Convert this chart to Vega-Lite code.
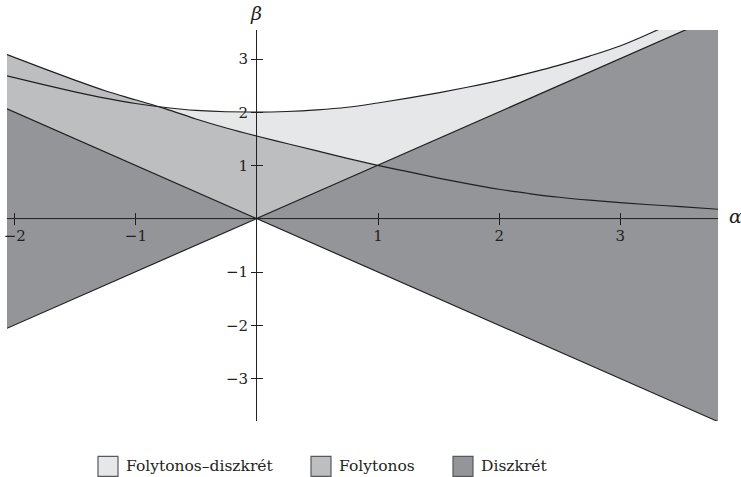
{
  "$schema": "https://vega.github.io/schema/vega-lite/v6.json",
  "width": 711,
  "height": 391,
  "autosize": {"type": "none"},
  "padding": {"left": 7, "top": 30, "right": 23, "bottom": 56},
  "background": "white",
  "config": {"view": {"stroke": null}, "font": "DejaVu Serif"},
  "datasets": {
    "curves": [
      {"a": -2.06, "A": 2.68, "B": 3.08},
      {"a": -1.75, "A": 2.51, "B": 2.81},
      {"a": -1.5, "A": 2.38, "B": 2.6},
      {"a": -1.25, "A": 2.26, "B": 2.4},
      {"a": -1.0, "A": 2.16, "B": 2.23},
      {"a": -0.75, "A": 2.085, "B": 2.06},
      {"a": -0.5, "A": 2.03, "B": 1.87},
      {"a": -0.25, "A": 2.005, "B": 1.7},
      {"a": 0, "A": 2.0, "B": 1.55},
      {"a": 0.25, "A": 2.01, "B": 1.41},
      {"a": 0.5, "A": 2.04, "B": 1.27},
      {"a": 0.75, "A": 2.09, "B": 1.13},
      {"a": 1.0, "A": 2.17, "B": 1.0},
      {"a": 1.25, "A": 2.26, "B": 0.88},
      {"a": 1.5, "A": 2.36, "B": 0.76},
      {"a": 1.75, "A": 2.47, "B": 0.65},
      {"a": 2.0, "A": 2.59, "B": 0.55},
      {"a": 2.25, "A": 2.73, "B": 0.47},
      {"a": 2.5, "A": 2.88, "B": 0.4},
      {"a": 2.75, "A": 3.05, "B": 0.345},
      {"a": 3.0, "A": 3.24, "B": 0.3},
      {"a": 3.25, "A": 3.48, "B": 0.26},
      {"a": 3.5, "A": 3.74, "B": 0.225},
      {"a": 3.81, "A": 4.05, "B": 0.175}
    ],
    "wedge": [
      {"a": -2.06, "lo": -2.06, "hi": 2.06},
      {"a": 0, "lo": 0, "hi": 0},
      {"a": 3.81, "lo": -3.81, "hi": 3.81}
    ],
    "diag": [
      {"k": "p", "a": -2.06, "b": -2.06},
      {"k": "p", "a": 3.81, "b": 3.81},
      {"k": "m", "a": -2.06, "b": 2.06},
      {"k": "m", "a": 3.81, "b": -3.81}
    ],
    "origin": [{"a": 0, "b": 0}]
  },
  "layer": [
    {
      "data": {"name": "curves"},
      "mark": {"type": "area", "clip": true, "interpolate": "monotone"},
      "encoding": {
        "x": {
          "field": "a", "type": "quantitative",
          "scale": {"domain": [-2.06, 3.81], "nice": false, "zero": false},
          "axis": {
            "orient": "bottom", "values": [-2, -1, 1, 2, 3], "offset": -208.4, "format": "d",
            "tickSize": 12, "tickWidth": 1, "tickColor": "#231f20", "zindex": 2,
            "domain": false, "grid": false, "title": null, "labelFlush": false,
            "labelFont": "DejaVu Serif", "labelFontSize": 15, "labelColor": "#231f20",
            "labelPadding": 4
          }
        },
        "y": {
          "field": "B", "type": "quantitative",
          "scale": {"domain": [-3.8, 3.54], "nice": false, "zero": false},
          "axis": {
            "orient": "left", "values": [-3, -2, -1, 1, 2, 3], "offset": -255.5, "format": "d",
            "tickSize": 12, "tickWidth": 1, "tickColor": "#231f20", "zindex": 2,
            "domain": false, "grid": false, "title": null, "labelFlush": false,
            "labelFont": "DejaVu Serif", "labelFontSize": 15, "labelColor": "#231f20",
            "labelPadding": 3
          }
        },
        "y2": {"field": "A"},
        "color": {
          "datum": "Folytonos–diszkrét", "type": "nominal",
          "scale": {
            "domain": ["Folytonos–diszkrét", "Folytonos", "Diszkrét"],
            "range": ["#e6e7e8", "#bcbec0", "#939598"]
          },
          "legend": {
            "orient": "none", "legendX": 90, "legendY": 425, "direction": "horizontal",
            "title": null, "symbolType": "square", "symbolSize": 400,
            "symbolStrokeWidth": 1.2, "symbolStrokeColor": "#58595b",
            "labelFont": "DejaVu Serif", "labelFontSize": 15.5, "labelColor": "#231f20",
            "labelLimit": 400, "labelOffset": 7, "columnPadding": 35, "padding": 0, "symbolOpacity": 1
          }
        }
      }
    },
    {
      "data": {"name": "curves"},
      "mark": {"type": "area", "clip": true, "interpolate": "monotone"},
      "encoding": {
        "x": {"field": "a", "type": "quantitative"},
        "y": {"field": "B", "type": "quantitative"},
        "y2": {"datum": 0},
        "color": {"datum": "Folytonos", "type": "nominal"}
      }
    },
    {
      "data": {"name": "wedge"},
      "mark": {"type": "area", "clip": true},
      "encoding": {
        "x": {"field": "a", "type": "quantitative"},
        "y": {"field": "lo", "type": "quantitative"},
        "y2": {"field": "hi"},
        "color": {"datum": "Diszkrét", "type": "nominal"}
      }
    },
    {
      "data": {"name": "curves"},
      "mark": {"type": "line", "clip": true, "interpolate": "monotone", "stroke": "#231f20", "strokeWidth": 1.2},
      "encoding": {
        "x": {"field": "a", "type": "quantitative"},
        "y": {"field": "B", "type": "quantitative"}
      }
    },
    {
      "data": {"name": "curves"},
      "mark": {"type": "line", "clip": true, "interpolate": "monotone", "stroke": "#231f20", "strokeWidth": 1.2},
      "encoding": {
        "x": {"field": "a", "type": "quantitative"},
        "y": {"field": "A", "type": "quantitative"}
      }
    },
    {
      "data": {"name": "diag"},
      "mark": {"type": "line", "clip": true, "stroke": "#231f20", "strokeWidth": 1.2},
      "encoding": {
        "x": {"field": "a", "type": "quantitative"},
        "y": {"field": "b", "type": "quantitative"},
        "detail": {"field": "k", "type": "nominal"}
      }
    },
    {
      "data": {"name": "origin"},
      "mark": {"type": "rule", "stroke": "#231f20", "strokeWidth": 1},
      "encoding": {"y": {"field": "b", "type": "quantitative"}}
    },
    {
      "data": {"name": "origin"},
      "mark": {"type": "rule", "stroke": "#231f20", "strokeWidth": 1},
      "encoding": {"x": {"field": "a", "type": "quantitative"}}
    },
    {
      "data": {"values": [{"a": 0, "b": 3.54, "t": "β"}]},
      "mark": {"type": "text", "font": "DejaVu Serif", "fontStyle": "italic", "fontSize": 19, "align": "center", "baseline": "alphabetic", "dy": -10, "color": "#231f20"},
      "encoding": {
        "x": {"field": "a", "type": "quantitative"},
        "y": {"field": "b", "type": "quantitative"},
        "text": {"field": "t"}
      }
    },
    {
      "data": {"values": [{"a": 3.81, "b": 0, "t": "α"}]},
      "mark": {"type": "text", "font": "DejaVu Serif", "fontStyle": "italic", "fontSize": 19, "align": "left", "baseline": "alphabetic", "dx": 11, "dy": 4.5, "color": "#231f20"},
      "encoding": {
        "x": {"field": "a", "type": "quantitative"},
        "y": {"field": "b", "type": "quantitative"},
        "text": {"field": "t"}
      }
    }
  ]
}
